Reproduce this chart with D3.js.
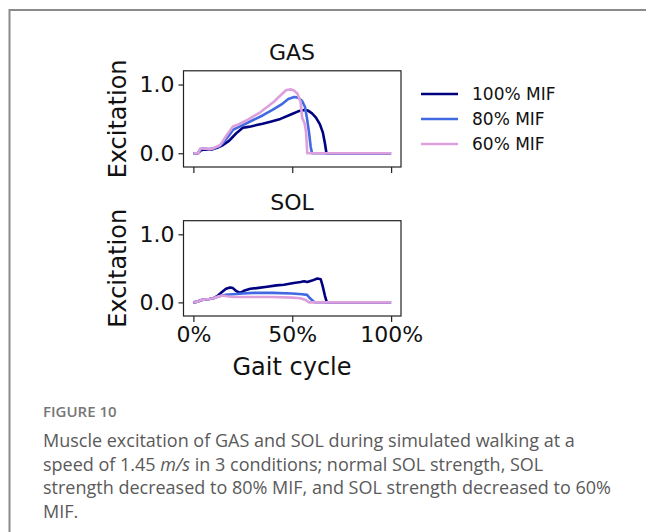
<!DOCTYPE html>
<html>
<head>
<meta charset="utf-8">
<script src="https://cdn.jsdelivr.net/npm/d3@7"></script>
<style>
  body { margin: 0; background: #fff; }
  svg { display: block; }
</style>
</head>
<body>
<svg id="fig" width="646" height="532"></svg>
<script>
// series names and colours
var conditions = ["100% MIF", "80% MIF", "60% MIF"];
var colors = ["navy", "royalblue", "plum"];

// GAS excitation (x = % gait cycle)
var gasX100 = [0, 2, 3, 3.5, 5, 8, 10, 12, 15, 18, 20, 22, 25, 27, 29, 32, 35, 39, 44, 49, 53, 56, 58, 60, 62, 64, 65.5, 66.5, 67.3, 70, 100];
var gasY100 = [0, 0, 0.02, 0.04, 0.05, 0.05, 0.06, 0.08, 0.12, 0.18, 0.24, 0.3, 0.37, 0.38, 0.39, 0.41, 0.43, 0.46, 0.5, 0.56, 0.61, 0.63, 0.62, 0.58, 0.52, 0.42, 0.3, 0.15, 0, 0, 0];
var gasX80 = [0, 2.5, 3.5, 5, 8, 10, 13, 15, 18, 20, 22, 25, 30, 35, 40, 45, 48, 51, 53, 55, 56.5, 57.5, 58.5, 59.3, 60, 100];
var gasY80 = [0, 0, 0.06, 0.07, 0.06, 0.07, 0.1, 0.15, 0.26, 0.34, 0.37, 0.41, 0.48, 0.55, 0.63, 0.72, 0.79, 0.82, 0.81, 0.76, 0.67, 0.5, 0.3, 0.1, 0, 0];
var gasX60 = [0, 2.5, 3.5, 5, 8, 10, 13.6, 17, 20, 22, 27, 34, 40.7, 44, 47, 49.5, 51, 52.6, 54.2, 55, 56.3, 57, 57.6, 100];
var gasY60 = [0, 0, 0.07, 0.07, 0.06, 0.07, 0.12, 0.27, 0.39, 0.41, 0.48, 0.6, 0.75, 0.84, 0.92, 0.93, 0.91, 0.87, 0.75, 0.52, 0.43, 0.3, 0, 0];

// SOL excitation
var solX100 = [0, 2, 3.5, 5, 8, 10, 12, 14, 16.5, 18.6, 20, 21.5, 23.7, 25.5, 28.8, 32, 37.3, 42, 45.8, 50, 54.2, 56, 57.6, 60, 62.7, 64.4, 65.3, 66.5, 67.5, 100];
var solY100 = [0, 0.01, 0.03, 0.04, 0.05, 0.06, 0.09, 0.14, 0.2, 0.22, 0.21, 0.17, 0.14, 0.17, 0.2, 0.21, 0.23, 0.25, 0.26, 0.28, 0.3, 0.31, 0.3, 0.32, 0.35, 0.34, 0.25, 0.1, 0, 0];
var solX80 = [0, 2, 3.5, 5, 8, 10, 13, 16, 20, 25, 30, 40, 50, 55, 57.5, 59, 60.5, 61.5, 100];
var solY80 = [0, 0.01, 0.03, 0.04, 0.05, 0.06, 0.09, 0.11, 0.12, 0.13, 0.14, 0.14, 0.13, 0.12, 0.11, 0.06, 0.02, 0, 0];
var solX60 = [0, 2, 3.5, 5, 8, 10, 13, 14.5, 17, 20, 30, 40, 50, 54, 56.5, 58.5, 100];
var solY60 = [0, 0.01, 0.03, 0.04, 0.05, 0.06, 0.09, 0.1, 0.09, 0.08, 0.08, 0.08, 0.07, 0.06, 0.04, 0, 0];

var xTicks = [0, 50, 100];
var yTicks = [0, 1];

var captionHead = "FIGURE 10";
var captionLines = [
  "Muscle excitation of GAS and SOL during simulated walking at a",
  "speed of 1.45 |m/s| in 3 conditions; normal SOL strength, SOL",
  "strength decreased to 80% MIF, and SOL strength decreased to 60%",
  "MIF."
];

var svg = d3.select("#fig");
var font = "DejaVu Sans";

// card border
svg.append("line").attr("x1", 9.5).attr("x2", 9.5).attr("y1", 9).attr("y2", 532)
  .attr("stroke", "#8a8a8a").attr("stroke-width", 2);
svg.append("line").attr("x1", 9).attr("x2", 646).attr("y1", 10).attr("y2", 10)
  .attr("stroke", "#8a8a8a").attr("stroke-width", 2);

var x = d3.scaleLinear().domain([-5, 105]).range([183.5, 401]);

var panels = [
  { title: "GAS", top: 70.8, bottom: 167, xs: [gasX100, gasX80, gasX60], ys: [gasY100, gasY80, gasY60], labels: false },
  { title: "SOL", top: 220.7, bottom: 316, xs: [solX100, solX80, solX60], ys: [solY100, solY80, solY60], labels: true }
];

panels.forEach(function(p) {
  var y = d3.scaleLinear().domain([-0.2, 1.2]).range([p.bottom, p.top]);
  var g = svg.append("g");

  var yAxis = g.append("g").attr("transform", "translate(" + x.range()[0] + ",0)")
    .call(d3.axisLeft(y).tickValues(yTicks).tickFormat(d3.format(".1f")).tickSize(5).tickPadding(4));
  var xAxis = g.append("g").attr("transform", "translate(0," + p.bottom + ")")
    .call(d3.axisBottom(x).tickValues(xTicks).tickFormat(function(d){ return p.labels ? d + "%" : ""; }).tickSize(6).tickPadding(4));
  [yAxis, xAxis].forEach(function(a) {
    a.select(".domain").remove();
    a.selectAll(".tick line").attr("stroke", "#222").attr("stroke-width", 1.2);
    a.selectAll(".tick text").attr("font-family", font).attr("font-size", "22px").attr("fill", "#111");
  });

  var line = d3.line().x(function(d){ return x(d[0]); }).y(function(d){ return y(d[1]); });
  for (var i = 0; i < 3; i++) {
    var pts = d3.zip(p.xs[i], p.ys[i]);
    g.append("path").datum(pts).attr("d", line)
      .attr("fill", "none").attr("stroke", colors[i]).attr("stroke-width", 2.6)
      .attr("stroke-linejoin", "round");
  }

  g.append("rect").attr("x", x.range()[0]).attr("y", p.top)
    .attr("width", x.range()[1] - x.range()[0]).attr("height", p.bottom - p.top)
    .attr("fill", "none").attr("stroke", "#222").attr("stroke-width", 1.2);

  g.append("text").text(p.title).attr("x", 292).attr("y", p.top - 10.5)
    .attr("text-anchor", "middle").attr("font-family", font).attr("font-size", "22px").attr("fill", "#111");

  var cy = (y(-0.2) + y(1.2)) / 2 + (p.labels ? 0 : 0);
  g.append("text").text("Excitation")
    .attr("transform", "translate(126," + cy + ") rotate(-90)")
    .attr("text-anchor", "middle").attr("font-family", font).attr("font-size", "24px").attr("fill", "#111");
});

svg.append("text").text("Gait cycle").attr("x", 292).attr("y", 375)
  .attr("text-anchor", "middle").attr("font-family", font).attr("font-size", "24px").attr("fill", "#111");

// legend
var legend = svg.append("g");
conditions.forEach(function(c, i) {
  var ly = 94 + i * 25;
  legend.append("line").attr("x1", 421).attr("x2", 458).attr("y1", ly).attr("y2", ly)
    .attr("stroke", colors[i]).attr("stroke-width", 2.6);
  legend.append("text").text(c).attr("x", 472).attr("y", ly).attr("dy", "0.35em")
    .attr("font-family", font).attr("font-size", "17px").attr("fill", "#111");
});

// caption
svg.append("text").text(captionHead).attr("x", 43).attr("y", 417)
  .attr("font-family", "Open Sans").attr("font-weight", 600).attr("font-size", "15px").attr("fill", "#777");
captionLines.forEach(function(l, i) {
  var t = svg.append("text").attr("x", 43).attr("y", 447 + i * 23.7)
    .attr("font-family", "Open Sans").attr("font-size", "18px").attr("fill", "#5a5a5a");
  l.split("|").forEach(function(part, k) {
    t.append("tspan").text(part).attr("font-style", k % 2 ? "italic" : null);
  });
});
</script>
</body>
</html>
